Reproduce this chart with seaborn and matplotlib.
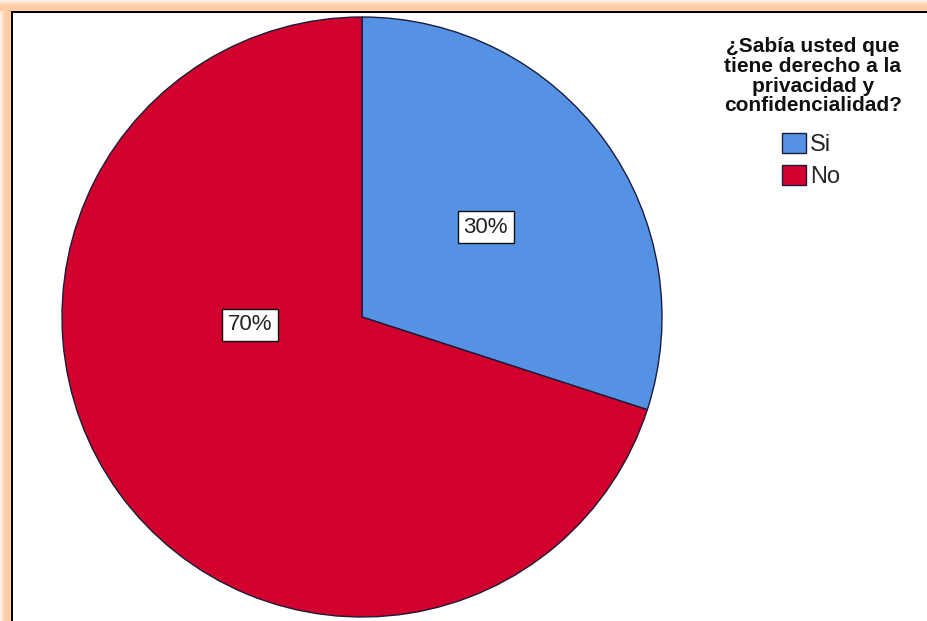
import numpy as np
import matplotlib
matplotlib.use("Agg")
import matplotlib.pyplot as plt
import seaborn as sns

# Survey answers
categories = ["Si", "No"]
percentages = [30, 70]
legend_title = "¿Sabía usted que\ntiene derecho a la\nprivacidad y\nconfidencialidad?"

sns.set_theme(style="white")
plt.rcParams["font.family"] = ["Liberation Sans", "DejaVu Sans"]

palette = sns.color_palette(["#5592E4", "#D1002D"])

W, H = 927, 621
fig = plt.figure(figsize=(W / 100, H / 100), dpi=100)
fig.patch.set_facecolor("white")

# Decorative frame: peach glow along top and left, thin black rule inside it
bg = fig.add_axes([0, 0, 1, 1], zorder=0)
frame = np.ones((H, W, 3))
peach = np.array([1.0, 0.80, 0.64])
for i in range(11):
    t = 0.25 + 0.75 * min(1.0, i / 5.0)
    col = 1 - t * (1 - peach)
    frame[i, :, :] = col
    frame[i:, i, :] = col
frame[11:13, 11:, :] = 0.0
frame[11:, 11:13, :] = 0.0
bg.imshow(frame, extent=(0, W, H, 0), interpolation="nearest", aspect="auto")
bg.set_xlim(0, W)
bg.set_ylim(H, 0)
bg.axis("off")

# Pie
cx, cy, r = 362, 317, 300
ax = fig.add_axes([(cx - r) / W, (H - cy - r) / H, 2 * r / W, 2 * r / H], zorder=1)
wedges, _ = ax.pie(
    percentages,
    colors=palette,
    startangle=90,
    counterclock=False,
    radius=1,
    wedgeprops=dict(edgecolor="#1c1c3a", linewidth=1.0),
)
ax.set_xlim(-1, 1)
ax.set_ylim(-1, 1)
ax.set_aspect("equal")
ax.axis("off")

# Percentage labels (polar placement: angle in degrees, radius fraction)
label_polar = [(36, 0.51), (184, 0.375)]
for pct, (ang, rf) in zip(percentages, label_polar):
    a = np.deg2rad(ang)
    ax.text(
        rf * np.cos(a), rf * np.sin(a), f"{pct}%",
        ha="center", va="center", fontsize=16, color="#222222",
        bbox=dict(boxstyle="square,pad=0.25", facecolor="white",
                  edgecolor="#111111", linewidth=1.0),
    )

# Legend title and entries
fig.text(813 / W, 1 - 37 / H, legend_title, ha="center", va="top",
         fontsize=15, fontweight="bold", linespacing=1.05, color="#111111")

fig.legend(
    wedges, categories,
    loc="upper left", bbox_to_anchor=(782 / W, 1 - 133 / H),
    bbox_transform=fig.transFigure,
    frameon=False, fontsize=17, borderpad=0, borderaxespad=0,
    handlelength=1.0, handleheight=0.95, handletextpad=0.2, labelspacing=0.35,
)

fig.savefig("out.png", dpi=100)
